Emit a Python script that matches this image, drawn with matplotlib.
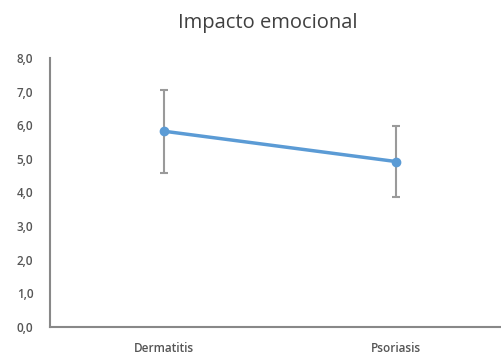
import matplotlib
matplotlib.use("Agg")
import matplotlib.pyplot as plt
from matplotlib.ticker import FuncFormatter

categories = ["Dermatitis", "Psoriasis"]
means = [5.82, 4.92]
err_low = [1.25, 1.07]
err_high = [1.22, 1.05]
title = "Impacto emocional"

plt.rcParams['font.family'] = ['Open Sans', 'DejaVu Sans']
fig = plt.figure(figsize=(5.01, 3.56), dpi=100)
ax = fig.add_axes([0.1, 0.082, 0.9, 0.755])
x = list(range(len(categories)))
ax.errorbar(x, means, yerr=[err_low, err_high], fmt='none', ecolor='#9a9a9a',
            elinewidth=1.5, capsize=3, capthick=1.5, zorder=2)
ax.plot(x, means, color='#5b9bd5', lw=2.5, marker='o', ms=6, zorder=3)
ax.set_xlim(-0.494, 1.455)
ax.set_ylim(0, 8)
ax.set_yticks([i for i in range(9)])
ax.yaxis.set_major_formatter(FuncFormatter(lambda v, p: f"{v:.1f}".replace('.', ',')))
ax.set_xticks(x)
ax.set_xticklabels(categories)
for s in ['top', 'right']:
    ax.spines[s].set_visible(False)
for s in ['left', 'bottom']:
    ax.spines[s].set_color('#888888')
    ax.spines[s].set_linewidth(1.5)
ax.tick_params(axis='both', length=0, labelsize=8.5, labelcolor='#555555')
for lab in ax.get_xticklabels() + ax.get_yticklabels():
    lab.set_fontweight('semibold')
ax.tick_params(axis='y', pad=12)
ax.tick_params(axis='x', pad=11)
fig.text(0.534, 0.935, title, ha='center', va='center', fontsize=14.5, color='#404040')
fig.savefig("out.png", dpi=100)
